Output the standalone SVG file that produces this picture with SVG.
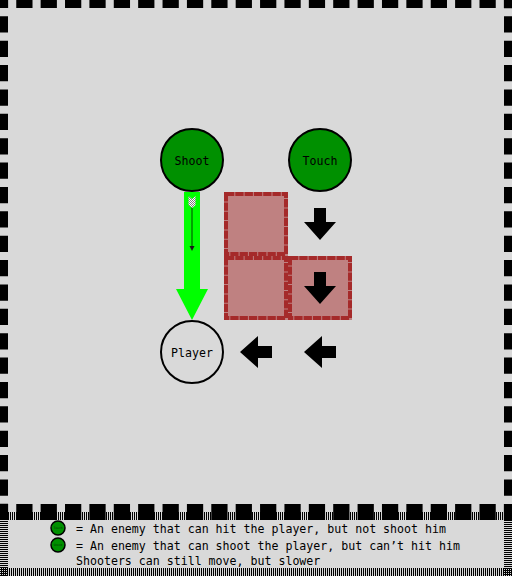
<svg xmlns="http://www.w3.org/2000/svg" width="512" height="576" viewBox="0 0 512 576">
<defs>
<style>
.lbl{font-family:"DejaVu Sans Mono","Liberation Mono",monospace;font-size:11.6px;fill:#000}
.enemy{fill:#009000;stroke:#000;stroke-width:2}
.block{fill:#a52a2a;fill-opacity:0.5}
.blockEdge{fill:none;stroke:#a52a2a;stroke-width:4;stroke-dasharray:8.3 1}
.move{fill:#000}
</style>
<clipPath id="panelClip"><rect x="0" y="512" width="512" height="64"/></clipPath>
<pattern id="checker" width="2" height="2" patternUnits="userSpaceOnUse">
<rect width="2" height="2" fill="#ffffff"/>
<rect width="1" height="1" fill="#808080"/>
<rect x="1" y="1" width="1" height="1" fill="#808080"/>
</pattern>
</defs>
<rect x="0" y="0" width="512" height="576" fill="#d9d9d9"/>
<rect x="0" y="512" width="512" height="64" fill="none" stroke="#000" stroke-width="16" stroke-dasharray="1 1" clip-path="url(#panelClip)"/>
<rect x="0" y="0" width="512" height="512" fill="none" stroke="#000" stroke-width="16" stroke-dasharray="16.254 8.127" stroke-dashoffset="8.127"/>

<g id="blocks">
<rect class="block" x="224" y="192" width="64" height="64"/>
<rect class="blockEdge" x="226" y="194" width="60" height="60"/>
<rect class="block" x="224" y="256" width="64" height="64"/>
<rect class="blockEdge" x="226" y="258" width="60" height="60"/>
<rect class="block" x="288" y="256" width="64" height="64"/>
<rect class="blockEdge" x="290" y="258" width="60" height="60"/>
</g>

<g id="connectors">
<polygon points="184,192 200,192 200,289 208,289 192,320 176,289 184,289" fill="#00ff00"/>
<line x1="192" y1="206" x2="192" y2="248" stroke="#006e00" stroke-width="1.3"/>
<polygon points="189.5,246 194.5,246 192,251" fill="#1a1a1a"/>
<polygon points="188.5,196 192,199 195.5,196 195.5,205 192,208 188.5,205" fill="url(#checker)"/>
</g>

<g id="moves">
<polygon class="move" points="314,208 326,208 326,222 336,222 320,240 304,222 314,222"/>
<polygon class="move" points="314,272 326,272 326,286 336,286 320,304 304,286 314,286"/>
<polygon class="move" points="240,352 258,336 258,346 272,346 272,358 258,358 258,368"/>
<polygon class="move" points="304,352 322,336 322,346 336,346 336,358 322,358 322,368"/>
</g>

<g id="shoot">
<circle class="enemy" cx="192" cy="160" r="31"/>
<text class="lbl" x="192" y="164.5" text-anchor="middle">Shoot</text>
</g>
<g id="touch">
<circle class="enemy" cx="320" cy="160" r="31"/>
<text class="lbl" x="320" y="164.5" text-anchor="middle">Touch</text>
</g>
<g id="player">
<circle cx="192" cy="352" r="31" fill="none" stroke="#000" stroke-width="2"/>
<text class="lbl" x="192" y="356.5" text-anchor="middle">Player</text>
</g>

<g id="legend">
<circle cx="58" cy="528" r="7" fill="#009000" stroke="#000" stroke-width="1.5"/>
<text x="58" y="529" text-anchor="middle" font-family="DejaVu Sans Mono, monospace" font-size="3" fill="#003000">Touch</text>
<circle cx="58" cy="545" r="7" fill="#009000" stroke="#000" stroke-width="1.5"/>
<text x="58" y="546" text-anchor="middle" font-family="DejaVu Sans Mono, monospace" font-size="3" fill="#003000">Shoot</text>
<text class="lbl" x="76" y="533">= An enemy that can hit the player, but not shoot him</text>
<text class="lbl" x="76" y="549.5">= An enemy that can shoot the player, but can’t hit him</text>
<text class="lbl" x="76" y="565">Shooters can still move, but slower</text>
</g>
</svg>
